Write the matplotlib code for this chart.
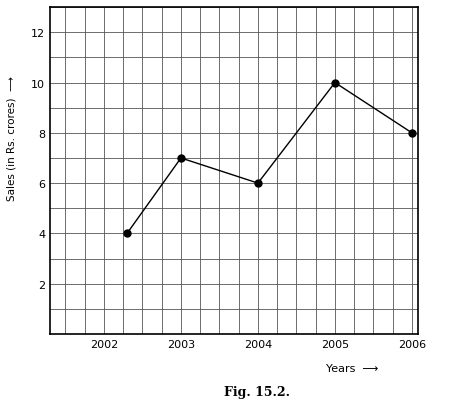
import matplotlib
matplotlib.use("Agg")
import matplotlib.pyplot as plt
import numpy as np

years = [2002.3, 2003, 2004, 2005, 2006]
sales = [4, 7, 6, 10, 8]
year_ticks = [2002, 2003, 2004, 2005, 2006]
sales_ticks = [2, 4, 6, 8, 10, 12]

fig = plt.figure(figsize=(4.51, 4.06), dpi=100)
ax = fig.add_axes([0.111, 0.175, 0.816, 0.805])
ax.set_xlim(2001.3, 2006.08)
ax.set_ylim(0, 13)
ax.set_xticks(np.arange(2001.5, 2006.1, 0.25), minor=True)
ax.set_yticks(np.arange(0, 13.1, 1), minor=True)
ax.set_xticks(year_ticks)
ax.set_yticks(sales_ticks)
ax.grid(which='both', color='#555555', lw=0.6)
ax.tick_params(which='both', length=0, labelsize=8)
ax.plot(years, sales, color='black', lw=1, marker='o', ms=5)
for s in ax.spines.values():
    s.set_linewidth(1.2)
ax.set_xlabel('Years  ⟶', fontsize=8, labelpad=8)
ax.xaxis.set_label_coords(0.82, -0.09)
ax.set_ylabel('Sales (in Rs. crores)  ⟶', fontsize=7.5)
ax.yaxis.set_label_coords(-0.09, 0.6)
fig.text(0.57, 0.025, 'Fig. 15.2.', fontsize=9, fontweight='bold', family='DejaVu Serif', ha='center')
fig.savefig('out.png')
